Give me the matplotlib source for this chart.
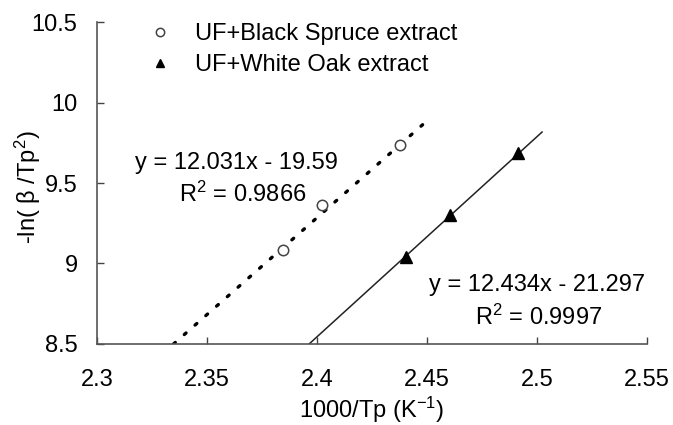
import numpy as np
import matplotlib.pyplot as plt

plt.rcParams['font.family'] = ['Liberation Sans', 'DejaVu Sans']
plt.rcParams['mathtext.fontset'] = 'custom'
plt.rcParams['mathtext.rm'] = 'Liberation Sans'
plt.rcParams['mathtext.it'] = 'Liberation Sans'

# 1000/Tp and -ln(beta/Tp^2) for each extract
spruce_x = [2.3845, 2.4023, 2.4377]
spruce_y = [9.084, 9.363, 9.736]
oak_x = [2.4405, 2.4605, 2.4914]
oak_y = [9.040, 9.300, 9.686]

# linear fits as printed on the chart
spruce_fit = (12.031, -19.59)
oak_fit = (12.434, -21.297)
spruce_range = [2.3348, 2.4480]
oak_range = [2.3964, 2.5023]

fig = plt.figure(figsize=(6.73, 4.25), dpi=100)
ax = fig.add_axes([0.1441, 0.1906, 0.8173, 0.7576])

xs = np.array(spruce_range)
ax.plot(xs, spruce_fit[0]*xs + spruce_fit[1], color='black', lw=2.4,
        linestyle=(0, (0.7, 3.6)), dash_capstyle='round')
xo = np.array(oak_range)
ax.plot(xo, oak_fit[0]*xo + oak_fit[1], color='#222222', lw=1.1)

ax.plot(spruce_x, spruce_y, 'o', ms=7.5, mfc='white', mec='#444444', mew=1.1,
        label='UF+Black Spruce extract')
ax.plot(oak_x, oak_y, '^', ms=9, color='black', label='UF+White Oak extract')

ax.set_xlim(2.3, 2.55)
ax.set_ylim(8.5, 10.5)
ax.set_xticks([2.3, 2.35, 2.4, 2.45, 2.5, 2.55])
ax.set_xticklabels(['2.3', '2.35', '2.4', '2.45', '2.5', '2.55'])
ax.set_yticks([8.5, 9, 9.5, 10, 10.5])
ax.set_yticklabels(['8.5', '9', '9.5', '10', '10.5'])
ax.tick_params(direction='in', length=5, width=1, colors='#444444',
               labelcolor='black', labelsize=17, pad=14)
ax.tick_params(axis='x', pad=18)

for s in ['top', 'right']:
    ax.spines[s].set_visible(False)
for s in ['left', 'bottom']:
    ax.spines[s].set_color('#555555')
    ax.spines[s].set_linewidth(1.2)

ax.set_xlabel('1000/Tp (K$^{-1}$)', fontsize=17)
ax.xaxis.set_label_coords(0.5, -0.158)
ax.set_ylabel('-ln( $\\beta$ /Tp$^{2}$)', fontsize=17)
ax.yaxis.set_label_coords(-0.098, 0.488)

leg = ax.legend(loc='upper left', bbox_to_anchor=(0.08, 1.025), frameon=False,
                fontsize=17, handlelength=0.8, handletextpad=1.1,
                labelspacing=0.36, borderaxespad=0)
for h in leg.legend_handles:
    h.set_markersize(6)

ax.text(2.3175, 9.624, 'y = 12.031x - 19.59', fontsize=17, va='center', ha='left')
ax.text(2.3375, 9.43, 'R$^{2}$ = 0.9866', fontsize=17, va='center', ha='left')
ax.text(2.4509, 8.866, 'y = 12.434x - 21.297', fontsize=17, va='center', ha='left')
ax.text(2.4718, 8.665, 'R$^{2}$ = 0.9997', fontsize=17, va='center', ha='left')

fig.savefig('out.png', dpi=100)
